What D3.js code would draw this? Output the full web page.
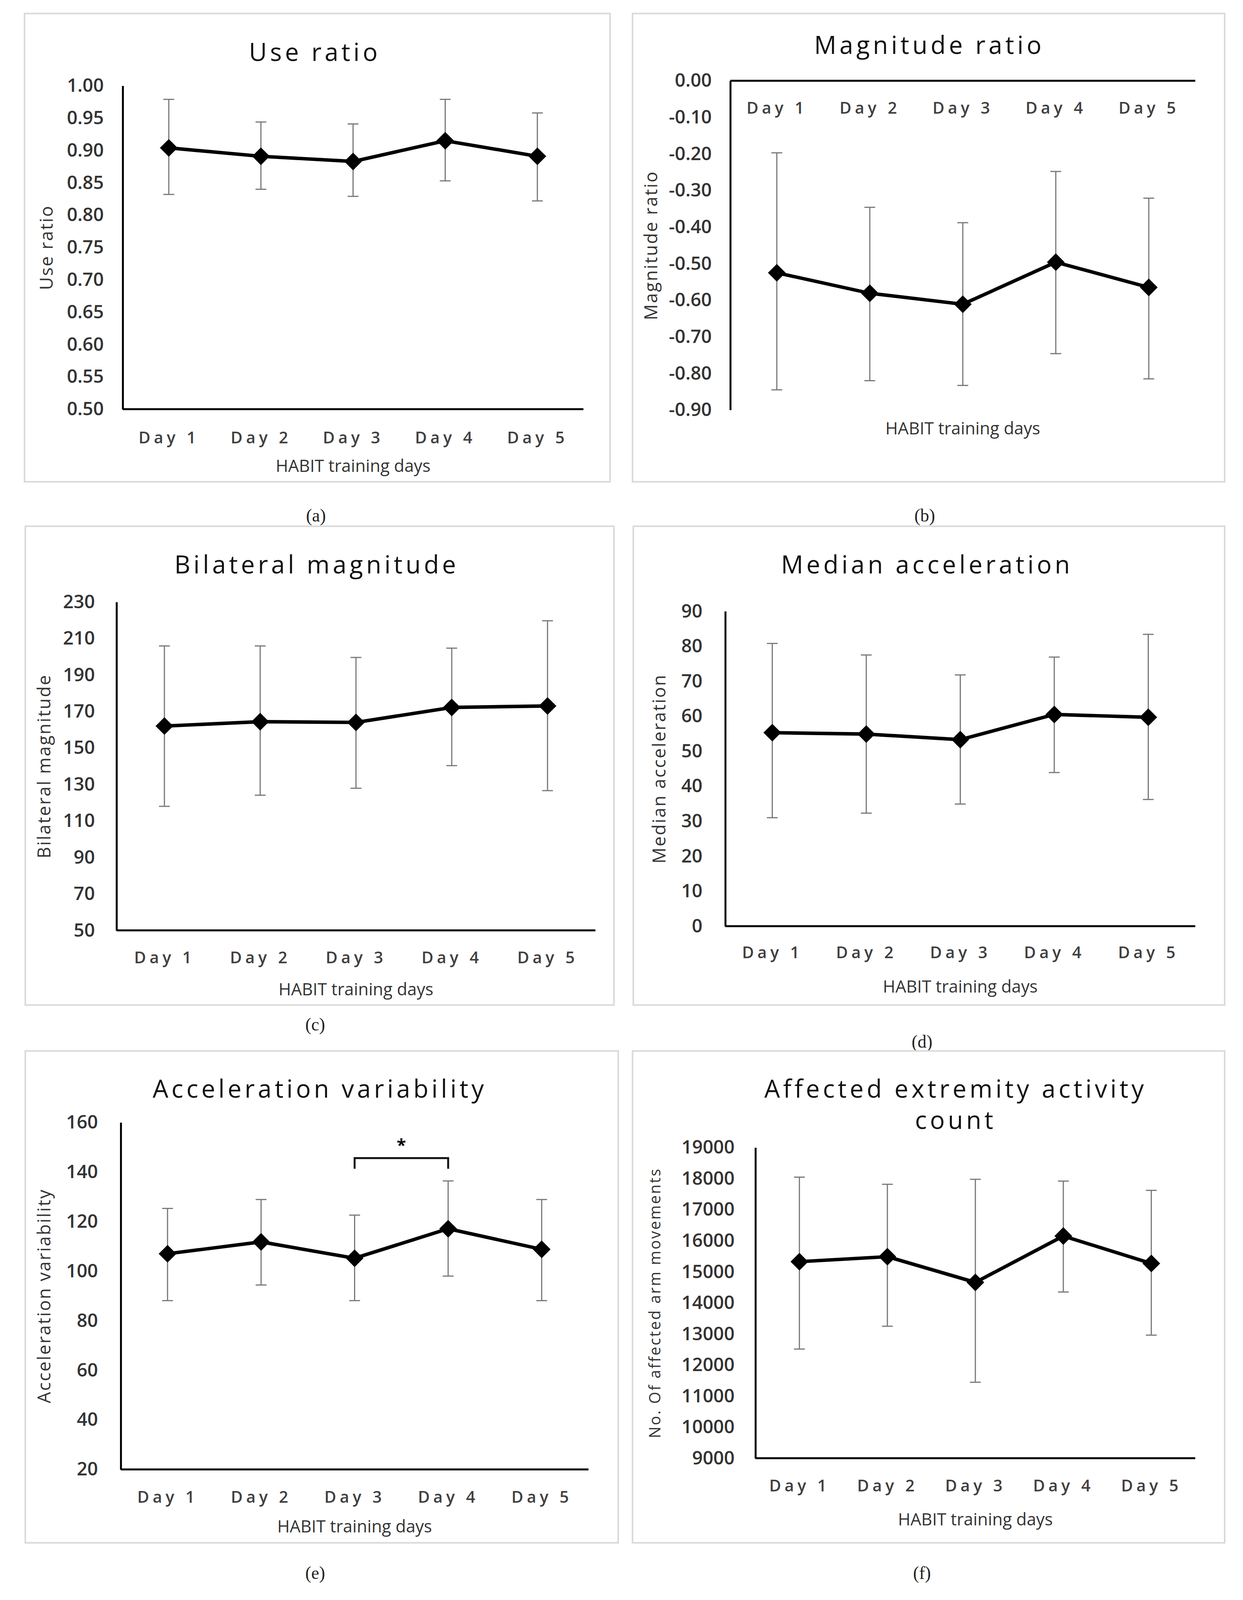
<!DOCTYPE html>
<html>
<head>
<meta charset="utf-8">
<script src="https://cdn.jsdelivr.net/npm/d3@7"></script>
<style>
  html, body { margin: 0; padding: 0; background: #fff; overflow: hidden; }
  svg { display: block; }
</style>
</head>
<body>
<div class="chart"></div>
<script>
// values
var days = ["Day 1", "Day 2", "Day 3", "Day 4", "Day 5"];

var useMean  = [0.904, 0.891, 0.883, 0.915, 0.891];
var useUpper = [0.979, 0.944, 0.941, 0.979, 0.958];
var useLower = [0.832, 0.840, 0.829, 0.853, 0.822];
var useTicks = [0.50, 0.55, 0.60, 0.65, 0.70, 0.75, 0.80, 0.85, 0.90, 0.95, 1.00];

var magMean  = [-0.525, -0.581, -0.611, -0.496, -0.565];
var magUpper = [-0.197, -0.346, -0.388, -0.248, -0.321];
var magLower = [-0.845, -0.820, -0.833, -0.746, -0.815];
var magTicks = [0.00, -0.10, -0.20, -0.30, -0.40, -0.50, -0.60, -0.70, -0.80, -0.90];

var bilMean  = [162, 164.4, 164, 172.2, 173];
var bilUpper = [205.9, 205.9, 199.6, 204.7, 219.7];
var bilLower = [118, 124.1, 127.9, 140.3, 126.6];
var bilTicks = [50, 70, 90, 110, 130, 150, 170, 190, 210, 230];

var medMean  = [55.3, 54.9, 53.3, 60.5, 59.7];
var medUpper = [80.8, 77.5, 71.8, 76.9, 83.4];
var medLower = [31.0, 32.3, 34.9, 43.9, 36.2];
var medTicks = [0, 10, 20, 30, 40, 50, 60, 70, 80, 90];

var varMean  = [107.0, 111.8, 105.2, 117.1, 108.8];
var varUpper = [125.3, 128.9, 122.6, 136.4, 128.9];
var varLower = [88.1, 94.4, 88.1, 98.0, 88.1];
var varTicks = [20, 40, 60, 80, 100, 120, 140, 160];
var sigPair = ["Day 3", "Day 4"];
var sigTop = 145.6;
var sigEnd = 141.3;

var cntMean  = [15326, 15487, 14660, 16152, 15269];
var cntUpper = [18047, 17817, 17978, 17920, 17622];
var cntLower = [12513, 13248, 11445, 14350, 12961];
var cntTicks = [9000, 10000, 11000, 12000, 13000, 14000, 15000, 16000, 17000, 18000, 19000];

var svgWidth = 3181;
var svgHeight = 4141;

// viewBox so the whole figure fits whatever the visible viewport is
var svg = d3.select(".chart")
    .append("svg")
    .attr("viewBox", `0 0 ${svgWidth} ${svgHeight}`)
    .attr("preserveAspectRatio", "xMidYMin meet")
    .style("width", "100vw")
    .style("height", "100vh");

var font = "'Open Sans', 'DejaVu Sans', sans-serif";

// layout of each panel (pixels)
var panels = [
    {title: ["Use ratio"], titleX: 797, titleY: 135, box: [46, 35, 1561, 1247],
     x0: 300, x1: 1492, yTop: 222, yBot: 1059, dayY: 1133, habitY: 1206,
     yTitle: "Use ratio", yTitleX: 103, tickPad: 49, capX: 800, capY: 1334, cap: "(a)",
     mean: useMean, upper: useUpper, lower: useLower, ticks: useTicks, domain: [0.5, 1.0], fmt: d3.format(".2f")},
    {title: ["Magnitude ratio"], titleX: 2387, titleY: 117, box: [1619, 35, 3151, 1247],
     x0: 1872, x1: 3075, yTop: 209, yBot: 1061, dayY: 280, habitY: 1109, topAxis: true,
     yTitle: "Magnitude ratio", yTitleX: 1667, tickPad: 48, capX: 2375, capY: 1334, cap: "(b)",
     mean: magMean, upper: magUpper, lower: magLower, ticks: magTicks, domain: [-0.9, 0], fmt: d => d3.format(".2f")(d).replace("−", "-")},
    {title: ["Bilateral magnitude"], titleX: 802, titleY: 1461, box: [48, 1362, 1571, 2601],
     x0: 284, x1: 1523, yTop: 1558, yBot: 2408, dayY: 2478, habitY: 2561,
     yTitle: "Bilateral magnitude", yTitleX: 97, tickPad: 56, capX: 798, capY: 2651, cap: "(c)",
     mean: bilMean, upper: bilUpper, lower: bilLower, ticks: bilTicks, domain: [50, 230], fmt: d3.format("d")},
    {title: ["Median acceleration"], titleX: 2381, titleY: 1461, box: [1621, 1362, 3151, 2601],
     x0: 1859, x1: 3075, yTop: 1582, yBot: 2397, dayY: 2465, habitY: 2554,
     yTitle: "Median acceleration", yTitleX: 1688, tickPad: 59, capX: 2368, capY: 2695, cap: "(d)",
     mean: medMean, upper: medUpper, lower: medLower, ticks: medTicks, domain: [0, 90], fmt: d3.format("d")},
    {title: ["Acceleration variability"], titleX: 810, titleY: 2818, box: [48, 2720, 1582, 3993],
     x0: 295, x1: 1505, yTop: 2905, yBot: 3803, dayY: 3875, habitY: 3951,
     yTitle: "Acceleration variability", yTitleX: 97, tickPad: 59, capX: 798, capY: 4070, cap: "(e)",
     mean: varMean, upper: varUpper, lower: varLower, ticks: varTicks, domain: [20, 160], fmt: d3.format("d"), sig: true},
    {title: ["Affected extremity activity", "count"], titleX: 2455, titleY: 2818, box: [1619, 2720, 3151, 3993],
     x0: 1937, x1: 3075, yTop: 2970, yBot: 3774, dayY: 3845, habitY: 3933,
     yTitle: "No. Of affected arm movements", yTitleX: 1677, yTitleSize: 40, tickPad: 54, capX: 2368, capY: 4070, cap: "(f)",
     mean: cntMean, upper: cntUpper, lower: cntLower, ticks: cntTicks, domain: [9000, 19000], fmt: d3.format("d")}
];

panels.forEach(function(p) {
    var g = svg.append("g");

    // frame
    g.append("rect")
        .attr("x", p.box[0]).attr("y", p.box[1])
        .attr("width", p.box[2] - p.box[0]).attr("height", p.box[3] - p.box[1])
        .attr("fill", "none").attr("stroke", "#d9d9d9").attr("stroke-width", 4);

    var x = d3.scalePoint().domain(days).range([p.x0, p.x1]).padding(0.5);
    var y = d3.scaleLinear().domain(p.domain).range([p.yBot, p.yTop]);

    // title
    p.title.forEach(function(t, i) {
        g.append("text")
            .attr("x", p.titleX).attr("y", p.titleY + 23 + i * 81)
            .attr("text-anchor", "middle")
            .style("font-family", font).style("font-size", "64px")
            .style("letter-spacing", "8px").style("fill", "#111")
            .text(t);
    });

    // y axis
    var leftAxis = d3.axisLeft(y).tickValues(p.ticks).tickFormat(p.fmt)
        .tickSize(0).tickSizeOuter(0).tickPadding(p.tickPad);
    var ya = g.append("g").attr("transform", `translate(${p.x0},0)`).call(leftAxis);
    ya.select(".domain").attr("stroke", "#000").attr("stroke-width", 5);
    ya.selectAll("text").style("font-family", font).style("font-size", "48px")
        .style("font-weight", 600).style("fill", "#333");

    // x axis
    var xAxisY = p.topAxis ? y(0) : p.yBot;
    var bottomAxis = d3.axisBottom(x).tickSize(0).tickSizeOuter(0);
    var xa = g.append("g").attr("transform", `translate(0,${xAxisY})`).call(bottomAxis);
    xa.select(".domain").attr("stroke", "#000").attr("stroke-width", 5)
        .attr("d", `M${p.x0},0H${p.x1}`);
    xa.selectAll("text")
        .attr("y", p.dayY - xAxisY).attr("dy", "0.35em")
        .style("font-family", font).style("font-size", "42px").style("font-weight", 600)
        .style("letter-spacing", "9px").style("fill", "#404040");

    // axis titles
    g.append("text")
        .attr("x", (p.x0 + p.x1) / 2).attr("y", p.habitY).attr("dy", "0.35em")
        .attr("text-anchor", "middle")
        .style("font-family", font).style("font-size", "44px").style("fill", "#333")
        .text("HABIT training days");

    g.append("text")
        .attr("transform", `translate(${p.yTitleX},${(p.yTop + p.yBot) / 2}) rotate(-90)`)
        .attr("dy", "0.35em").attr("text-anchor", "middle")
        .style("font-family", font).style("font-size", (p.yTitleSize || 46) + "px")
        .style("letter-spacing", p.yTitleSize ? "3.5px" : "3px").style("fill", "#333")
        .text(p.yTitle);

    // error bars
    var rows = days.map((d, i) => ({day: d, mean: p.mean[i], upper: p.upper[i], lower: p.lower[i]}));
    var eb = g.append("g").attr("stroke", "#777").attr("stroke-width", 3).attr("fill", "none");
    eb.selectAll(".bar").data(rows).enter().append("line")
        .attr("x1", d => x(d.day)).attr("x2", d => x(d.day))
        .attr("y1", d => y(d.upper)).attr("y2", d => y(d.lower));
    eb.selectAll(".capU").data(rows).enter().append("line")
        .attr("x1", d => x(d.day) - 14).attr("x2", d => x(d.day) + 14)
        .attr("y1", d => y(d.upper)).attr("y2", d => y(d.upper));
    eb.selectAll(".capL").data(rows).enter().append("line")
        .attr("x1", d => x(d.day) - 14).attr("x2", d => x(d.day) + 14)
        .attr("y1", d => y(d.lower)).attr("y2", d => y(d.lower));

    // mean line + diamonds
    var line = d3.line().x(d => x(d.day)).y(d => y(d.mean));
    g.append("path").datum(rows)
        .attr("d", line).attr("fill", "none")
        .attr("stroke", "#000").attr("stroke-width", 9).attr("stroke-linejoin", "round");

    g.selectAll(".pt").data(rows).enter().append("path")
        .attr("d", d3.symbol(d3.symbolSquare, 1050))
        .attr("transform", d => `translate(${x(d.day)},${y(d.mean)}) rotate(45)`)
        .attr("fill", "#000");

    // significance bracket
    if (p.sig) {
        var xa1 = x(sigPair[0]), xa2 = x(sigPair[1]);
        g.append("path")
            .attr("d", `M${xa1},${y(sigEnd)}V${y(sigTop)}H${xa2}V${y(sigEnd)}`)
            .attr("fill", "none").attr("stroke", "#111").attr("stroke-width", 5);
        g.append("text")
            .attr("x", (xa1 + xa2) / 2).attr("y", y(sigTop) - 18)
            .attr("text-anchor", "middle")
            .style("font-family", font).style("font-size", "44px").style("font-weight", "bold")
            .text("*");
    }

    // caption
    g.append("text")
        .attr("x", p.capX).attr("y", p.capY).attr("dy", "0.35em")
        .attr("text-anchor", "middle")
        .style("font-family", "'Liberation Serif', 'Times New Roman', serif").style("font-size", "46px")
        .style("fill", "#222")
        .text(p.cap);
});
</script>
</body>
</html>
